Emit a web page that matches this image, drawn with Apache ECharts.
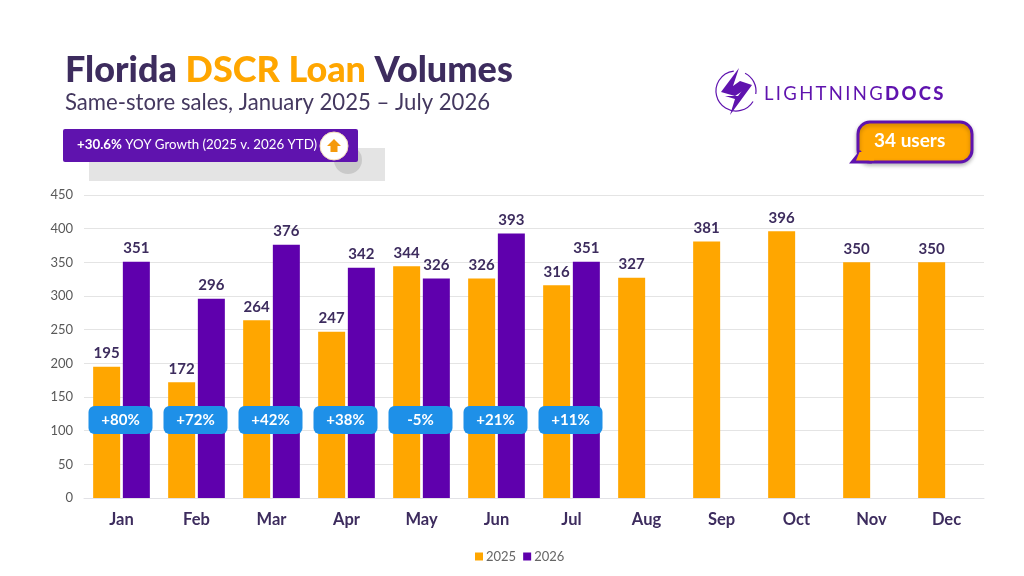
<!DOCTYPE html>
<html><head><meta charset="utf-8">
<style>html,body{margin:0;padding:0;background:#fff}#c{width:1024px;height:576px}</style>
<script src="https://cdn.jsdelivr.net/npm/echarts@6/dist/echarts.min.js"></script>
</head><body><div id="c"></div>
<script>
const categories=['Jan','Feb','Mar','Apr','May','Jun','Jul','Aug','Sep','Oct','Nov','Dec'];
const values2025=[195,172,264,247,344,326,316,327,381,396,350,350];
const values2026=[351,296,376,342,326,393,351,null,null,null,null,null];
const growthLabels=['+80%','+72%','+42%','+38%','-5%','+21%','+11%'];
const yTicks={min:0,max:450,interval:50};
const ORANGE='#FFA600',PURPLE='#5F00AD',DARK='#3D2C5E',BLUE='#1E90E8';
const FONT='Lato';
const chart=echarts.init(document.getElementById('c'),null,{renderer:'canvas'});
const barLabel={show:true,position:'top',distance:6,color:DARK,fontFamily:FONT,fontWeight:'bold',fontSize:15};
const H='\u200A\u200A';
chart.setOption({
 animation:false,
 backgroundColor:'#fff',
 textStyle:{fontFamily:FONT},
 grid:{left:84,right:40,top:195,bottom:78},
 legend:{bottom:8,left:470,itemWidth:8,itemHeight:8,itemGap:7,icon:'rect',data:['2025','2026'],
  textStyle:{fontFamily:FONT,fontSize:13,color:'#666',padding:[0,0,0,-2]}},
 xAxis:{type:'category',data:categories,axisTick:{show:false},
  axisLine:{lineStyle:{color:'#E2E2E6'}},
  axisLabel:{margin:13,color:DARK,fontFamily:FONT,fontWeight:'bold',fontSize:16.5}},
 yAxis:{type:'value',min:yTicks.min,max:yTicks.max,interval:yTicks.interval,
  axisLine:{show:false},axisTick:{show:false},
  splitLine:{lineStyle:{color:'#E4E4E4'}},
  axisLabel:{margin:11,color:'#595959',fontFamily:FONT,fontSize:13}},
 series:[
  {name:'2025',type:'bar',data:values2025,barWidth:27,barGap:'10%',itemStyle:{color:ORANGE},label:barLabel,z:2},
  {name:'2026',type:'bar',data:values2026,barWidth:27,itemStyle:{color:PURPLE},label:barLabel,z:2},
  {name:'growth',type:'scatter',symbolSize:1,z:5,silent:true,itemStyle:{color:'rgba(0,0,0,0)',opacity:1},
   data:growthLabels.map((g,i)=>({value:[i,116],name:g})),
   label:{show:true,position:'inside',opacity:1,formatter:p=>p.name,color:'#fff',fontFamily:FONT,fontWeight:'bold',fontSize:15,
    backgroundColor:BLUE,borderRadius:6,width:64,height:28,lineHeight:28,align:'center',verticalAlign:'middle',offset:[-1,0]}}
 ],
 graphic:[
  {type:'text',x:65,y:52,z:10,style:{rich:{a:{fill:DARK,font:'900 36px Lato'},b:{fill:ORANGE,font:'900 36px Lato'}},text:'{a|Florida }{b|DSCR Loan }{a|Volumes}'}},
  {type:'text',x:65,y:92,z:10,style:{text:'Same-store sales, January 2025 – July 2026',fill:'#44385F',font:'22.15px Lato'}},
  {type:'rect',z:8,shape:{x:89,y:148,width:296,height:33},style:{fill:'#E4E4E4'}},
  {type:'circle',z:8,shape:{cx:348,cy:160,r:14},style:{fill:'#C9C9C9'}},
  {type:'rect',z:9,shape:{x:63,y:129,width:295,height:33,r:2},style:{fill:'#5F13AE'}},
  {type:'text',z:10,x:77,y:138,style:{rich:{a:{fill:'#fff',font:'bold 13.3px Lato'},b:{fill:'#fff',font:'13.3px Lato'}},text:'{a|+30.6%} {b|YOY Growth (2025 v. 2026 YTD)}'}},
  {type:'circle',z:10,shape:{cx:334,cy:146,r:14},style:{fill:'#fff',stroke:'#F4DDB8',lineWidth:1}},
  {type:'polygon',z:11,shape:{points:[[334,139],[341,146],[337.5,146],[337.5,152],[330.5,152],[330.5,146],[327,146]]},style:{fill:'#F59A0B'}},
  {type:'arc',z:10,shape:{cx:736,cy:91,r:20,startAngle:-1.1,endAngle:0.15,clockwise:true},style:{stroke:'#5F13AE',fill:null,lineWidth:1.2}},
  {type:'arc',z:10,shape:{cx:736,cy:91,r:20,startAngle:0.55,endAngle:4.6,clockwise:true},style:{stroke:'#5F13AE',fill:null,lineWidth:1.2}},
  {type:'polygon',z:11,shape:{points:[[739,68],[721,92],[735,96],[752,85],[740,81],[733,86]]},style:{fill:'#5F13AE'}},
  {type:'polygon',z:11,shape:{points:[[752,85],[730,115],[735,99],[725,96],[738,96],[744,88]]},style:{fill:'#5F13AE'}},
  {type:'text',z:10,x:764,y:85,style:{rich:{a:{fill:'#5F13AE',font:'400 18.5px Lato'},b:{fill:'#5F13AE',font:'900 18.5px Lato'}},text:'{a|'+'LIGHTNING'.split('').join(H)+H+'}{b|'+'DOCS'.split('').join(H)+'}'}},
  {type:'rect',z:9,shape:{x:858,y:122,width:114,height:40,r:12},style:{fill:ORANGE,stroke:'#5F13AE',lineWidth:3,shadowColor:'rgba(0,0,0,0.25)',shadowBlur:4,shadowOffsetY:2}},
  {type:'polygon',z:9,shape:{points:[[849,163.5],[860,150],[872,163.5]]},style:{fill:'#5F13AE'}},
  {type:'polygon',z:9,shape:{points:[[856,160.5],[859.5,152],[874,152],[874,160.5]]},style:{fill:ORANGE}},
  {type:'text',z:10,x:874,y:131,style:{text:'34 users',fill:'#fff',font:'bold 19px Lato'}}
 ]
});
</script></body></html>
